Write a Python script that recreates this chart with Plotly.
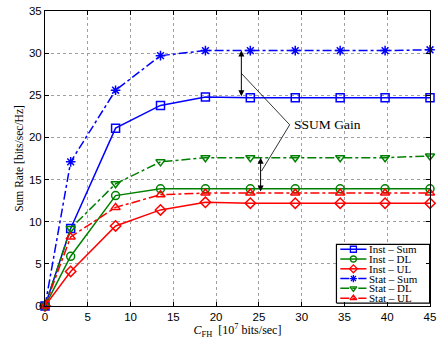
import plotly.graph_objects as go

# Fronthaul capacity C_FH [10^7 bits/sec]
c_fh = [0, 3, 8.25, 13.5, 18.75, 24, 29.25, 34.5, 39.75, 45]

# Sum rates [bits/sec/Hz]
inst_sum = [0, 9.2, 21.1, 23.8, 24.8, 24.7, 24.7, 24.7, 24.7, 24.7]
inst_dl = [0, 5.9, 13.1, 13.9, 13.9, 13.9, 13.9, 13.9, 13.9, 13.9]
inst_ul = [0, 4.1, 9.5, 11.4, 12.3, 12.2, 12.2, 12.2, 12.2, 12.2]
stat_sum = [0, 17.1, 25.6, 29.7, 30.3, 30.3, 30.3, 30.3, 30.3, 30.4]
stat_dl = [0, 9.2, 14.5, 17.1, 17.6, 17.6, 17.6, 17.6, 17.6, 17.8]
stat_ul = [0, 8.2, 11.7, 13.2, 13.4, 13.4, 13.4, 13.4, 13.4, 13.4]

x_ticks = [0, 5, 10, 15, 20, 25, 30, 35, 40, 45]
y_ticks = [0, 5, 10, 15, 20, 25, 30, 35]

BLUE = "rgb(0,0,255)"
GREEN = "rgb(0,128,0)"
RED = "rgb(255,0,0)"

series = [
    ("Inst \u2013 Sum", inst_sum, BLUE, "solid", "square-open"),
    ("Inst \u2013 DL", inst_dl, GREEN, "solid", "circle-open"),
    ("Inst \u2013 UL", inst_ul, RED, "solid", "diamond-open"),
    ("Stat \u2013 Sum", stat_sum, BLUE, "dashdot", "asterisk-open"),
    ("Stat \u2013 DL", stat_dl, GREEN, "dashdot", "triangle-down-open"),
    ("Stat \u2013 UL", stat_ul, RED, "dashdot", "triangle-up-open"),
]

SERIF = "Liberation Serif"
SANS = "Liberation Sans"

fig = go.Figure()
for name, ys, color, dash, symbol in series:
    fig.add_trace(go.Scatter(
        x=c_fh, y=ys, name=name, mode="lines+markers", showlegend=False,
        line=dict(color=color, width=1.5, dash=dash),
        marker=dict(symbol=symbol, size=8, color=color,
                    line=dict(color=color, width=1.5)),
        cliponaxis=False,
    ))

# Legend box drawn on an overlay axis spanning the plot area in [0, 1]
box_x0, box_x1 = 0.757, 0.999
box_y0, box_y1 = 0.01, 0.209
fig.add_trace(go.Scatter(
    x=[box_x0, box_x1, box_x1, box_x0, box_x0],
    y=[box_y0, box_y0, box_y1, box_y1, box_y0],
    xaxis="x2", yaxis="y2", mode="lines", fill="toself",
    fillcolor="white", line=dict(color="black", width=1.2),
    showlegend=False, hoverinfo="skip",
))
row_h = (box_y1 - box_y0) / 6
sample_x0, sample_x1 = 0.767, 0.835
for i, (name, ys, color, dash, symbol) in enumerate(series):
    yc = box_y1 - row_h * (i + 0.5)
    fig.add_trace(go.Scatter(
        x=[sample_x0, sample_x1], y=[yc, yc], xaxis="x2", yaxis="y2",
        mode="lines", line=dict(color=color, width=1.5, dash=dash),
        showlegend=False, hoverinfo="skip",
    ))
    fig.add_trace(go.Scatter(
        x=[(sample_x0 + sample_x1) / 2], y=[yc], xaxis="x2", yaxis="y2",
        mode="markers",
        marker=dict(symbol=symbol, size=6, color=color,
                    line=dict(color=color, width=1.3)),
        showlegend=False, hoverinfo="skip",
    ))
    fig.add_annotation(x=sample_x1 + 0.003, y=yc, xref="x2", yref="y2",
                       text=name, showarrow=False, xanchor="left",
                       yanchor="middle", borderpad=0,
                       font=dict(family=SERIF, size=11, color="black"))

# Gain arrows between statistical and instantaneous curves
gain_x1 = 22.95
gain_x2 = 25.2
text_x, text_y = 28.6, 21.5

fig.add_annotation(x=gain_x1, y=stat_sum[5], ax=gain_x1, ay=inst_sum[5],
                   xref="x", yref="y", axref="x", ayref="y", text="",
                   showarrow=True, arrowhead=2, startarrowhead=2,
                   arrowside="end+start", arrowsize=1.2, arrowwidth=1,
                   arrowcolor="black", standoff=0, startstandoff=0)
fig.add_annotation(x=gain_x2, y=stat_dl[5], ax=gain_x2, ay=stat_ul[5],
                   xref="x", yref="y", axref="x", ayref="y", text="",
                   showarrow=True, arrowhead=2, startarrowhead=2,
                   arrowside="end+start", arrowsize=1.2, arrowwidth=1,
                   arrowcolor="black", standoff=0, startstandoff=0)
fig.add_shape(type="line", x0=gain_x1, y0=27.6, x1=text_x, y1=text_y,
              xref="x", yref="y", line=dict(color="black", width=0.8))
fig.add_shape(type="line", x0=text_x, y0=text_y, x1=gain_x2 + 0.1, y1=16.0,
              xref="x", yref="y", line=dict(color="black", width=0.8))
fig.add_annotation(x=text_x + 0.3, y=text_y, xref="x", yref="y",
                   text="SSUM Gain", showarrow=False, xanchor="left",
                   font=dict(family=SERIF, size=13.5, color="black"))

axis_common = dict(
    showgrid=True, gridcolor="rgb(160,160,160)", griddash="dot", gridwidth=1,
    showline=True, linecolor="black", linewidth=1, mirror="allticks",
    ticks="inside", ticklen=4, tickcolor="black",
    tickfont=dict(family=SANS, size=11.5, color="black"),
    zeroline=False, ticklabeloverflow="allow",
)

fig.update_xaxes(range=[0, 45], tickvals=x_ticks,
                 title=dict(text="<i>C</i><sub>FH</sub>  [10<sup>7</sup> bits/sec]",
                            font=dict(family=SERIF, size=12, color="black"),
                            standoff=3),
                 **axis_common)
fig.update_yaxes(range=[0, 35], tickvals=y_ticks,
                 title=dict(text="Sum Rate [bits/sec/Hz]",
                            font=dict(family=SERIF, size=11.5, color="black"),
                            standoff=2),
                 **axis_common)

fig.update_layout(
    width=441, height=339,
    margin=dict(l=45, r=5, t=10, b=32),
    paper_bgcolor="white", plot_bgcolor="white",
    showlegend=False,
    xaxis2=dict(overlaying="x", range=[0, 1], visible=False, fixedrange=True),
    yaxis2=dict(overlaying="y", range=[0, 1], visible=False, fixedrange=True),
)

fig.write_html("out.html")
